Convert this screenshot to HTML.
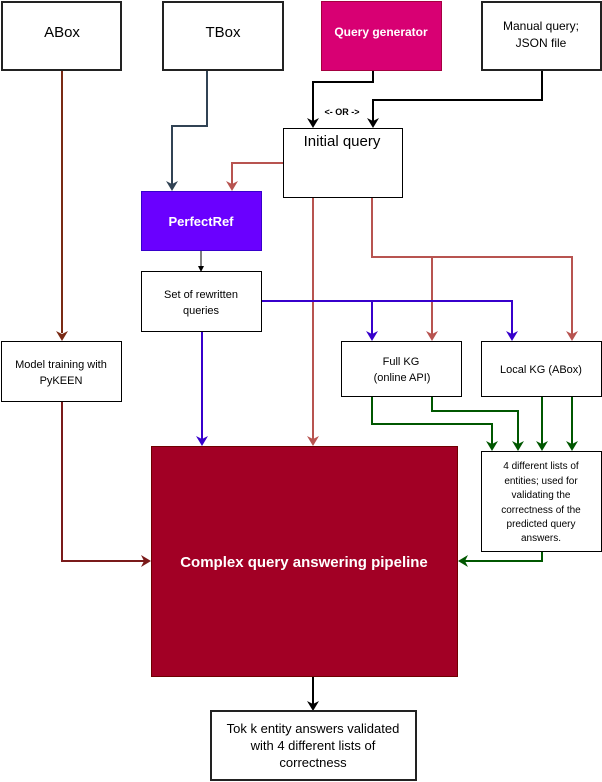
<!DOCTYPE html>
<html><head><meta charset="utf-8"><style>html,body{margin:0;padding:0;background:#fff}svg{display:block}text{font-family:"Liberation Sans",sans-serif}</style></head>
<body>
<svg width="602" height="782" viewBox="0 0 602 782" xmlns="http://www.w3.org/2000/svg">
<defs>
<marker id="ak" markerWidth="10" markerHeight="10" refX="5" refY="8" orient="auto" markerUnits="userSpaceOnUse" viewBox="0 0 10 10"><path d="M0,0 L5,3 L10,0 L5,10 z" fill="#000" transform="rotate(-90 5 5)"/></marker>
</defs>
<g fill="none" stroke-width="2">
<!-- ABox -->
<path d="M62 61 V333" stroke="#7a2a14"/>
<path d="M62 401 V561 H144" stroke="#7a1a1a"/>
<!-- TBox -->
<path d="M207 61 V126 H172 V184" stroke="#314354"/>
<!-- QG / manual -->
<path d="M373 61 V82 H313 V121" stroke="#000"/>
<path d="M542 61 V100 H373 V121" stroke="#000"/>
<!-- Initial query red -->
<path d="M283 163 H232 V184" stroke="#b85450"/>
<path d="M313 197 V439" stroke="#b85450"/>
<path d="M372 197 V257 H572 V334" stroke="#b85450"/>
<path d="M432 257 V334" stroke="#b85450"/>
<!-- PerfectRef -->
<path d="M201 250 V266" stroke="#000" stroke-width="1"/>
<!-- rewritten purple -->
<path d="M262 301 H512 V334" stroke="#3700cc"/>
<path d="M372 301 V334" stroke="#3700cc"/>
<path d="M202 331 V439" stroke="#3700cc"/>
<!-- green -->
<path d="M372 396 V424 H492 V444" stroke="#005700"/>
<path d="M432 396 V411 H518 V444" stroke="#005700"/>
<path d="M542 396 V444" stroke="#005700"/>
<path d="M572 396 V444" stroke="#005700"/>
<path d="M542 551 V561 H465" stroke="#005700"/>
<!-- output -->
<path d="M313 676 V704" stroke="#000"/>
</g>
<!-- arrowheads -->
<g>
<path d="M56 331 L62 341 L68 331 L62 334z" fill="#7a2a14"/>
<path d="M141 555 L151 561 L141 567 L144 561z" fill="#7a1a1a"/>
<path d="M166 181 L172 191 L178 181 L172 184z" fill="#314354"/>
<path d="M307 118 L313 128 L319 118 L313 121z" fill="#000"/>
<path d="M367 118 L373 128 L379 118 L373 121z" fill="#000"/>
<path d="M226 181 L232 191 L238 181 L232 184z" fill="#b85450"/>
<path d="M307 436 L313 446 L319 436 L313 439z" fill="#b85450"/>
<path d="M566 331 L572 341 L578 331 L572 334z" fill="#b85450"/>
<path d="M426 331 L432 341 L438 331 L432 334z" fill="#b85450"/>
<path d="M198 266 L201 272 L204 266z" fill="#000"/>
<path d="M506 331 L512 341 L518 331 L512 334z" fill="#3700cc"/>
<path d="M366 331 L372 341 L378 331 L372 334z" fill="#3700cc"/>
<path d="M196 436 L202 446 L208 436 L202 439z" fill="#3700cc"/>
<path d="M486 441 L492 451 L498 441 L492 444z" fill="#005700"/>
<path d="M512 441 L518 451 L524 441 L518 444z" fill="#005700"/>
<path d="M536 441 L542 451 L548 441 L542 444z" fill="#005700"/>
<path d="M566 441 L572 451 L578 441 L572 444z" fill="#005700"/>
<path d="M468 555 L458 561 L468 567 L465 561z" fill="#005700"/>
<path d="M307 701 L313 711 L319 701 L313 704z" fill="#000"/>
</g>
<!-- boxes -->
<g stroke="#000">
<rect x="2" y="2" width="119" height="68" fill="#fff" stroke-width="2" stroke="#222"/>
<rect x="163" y="2" width="120" height="68" fill="#fff" stroke-width="2" stroke="#222"/>
<rect x="321.5" y="1.5" width="120" height="69" fill="#d80073" stroke="#a50040" stroke-width="1"/>
<rect x="482" y="2" width="119" height="68" fill="#fff" stroke-width="2" stroke="#222"/>
<rect x="283.5" y="128.5" width="119" height="69" fill="#fff" stroke-width="1"/>
<rect x="141.5" y="191.5" width="120" height="59" fill="#6a00ff" stroke="#3700cc" stroke-width="1"/>
<rect x="141.5" y="271.5" width="120" height="60" fill="#fff" stroke-width="1"/>
<rect x="1.5" y="341.5" width="120" height="60" fill="#fff" stroke-width="1"/>
<rect x="341.5" y="341.5" width="120" height="55" fill="#fff" stroke-width="1"/>
<rect x="481.5" y="341.5" width="120" height="55" fill="#fff" stroke-width="1"/>
<rect x="481.5" y="451.5" width="120" height="100" fill="#fff" stroke-width="1"/>
<rect x="151.5" y="446.5" width="306" height="230" fill="#a20025" stroke="#6f0000" stroke-width="1"/>
<rect x="211" y="711" width="205" height="69" fill="#fff" stroke-width="2" stroke="#222"/>
</g>
<!-- text -->
<g text-anchor="middle" fill="#000">
<text x="62" y="37" font-size="15">ABox</text>
<text x="223" y="37" font-size="15">TBox</text>
<text x="381" y="36" font-size="12" font-weight="bold" fill="#fff">Query generator</text>
<text x="541" y="30" font-size="12">Manual query;</text>
<text x="541" y="47" font-size="12">JSON file</text>
<text x="342" y="115" font-size="9" font-weight="bold">&lt;- OR -&gt;</text>
<text x="342" y="146" font-size="15">Initial query</text>
<text x="201" y="226" font-size="13" font-weight="bold" fill="#fff">PerfectRef</text>
<text x="201" y="298" font-size="11">Set of rewritten</text>
<text x="201" y="314" font-size="11">queries</text>
<text x="61" y="368" font-size="11">Model training with</text>
<text x="61" y="384" font-size="11">PyKEEN</text>
<text x="401" y="365" font-size="11">Full KG</text>
<text x="402" y="381" font-size="11">(online API)</text>
<text x="541" y="373" font-size="11">Local KG (ABox)</text>
<text x="541" y="469" font-size="10">4 different lists of</text>
<text x="541" y="484" font-size="10">entities; used for</text>
<text x="541" y="498" font-size="10">validating the</text>
<text x="541" y="513" font-size="10">correctness of the</text>
<text x="541" y="527" font-size="10">predicted query</text>
<text x="541" y="541" font-size="10">answers.</text>
<text x="304" y="567" font-size="15" font-weight="bold" fill="#fff">Complex query answering pipeline</text>
<text x="313" y="733" font-size="13">Tok k entity answers validated</text>
<text x="313" y="750" font-size="13">with 4 different lists of</text>
<text x="313" y="767" font-size="13">correctness</text>
</g>
</svg>
</body></html>
